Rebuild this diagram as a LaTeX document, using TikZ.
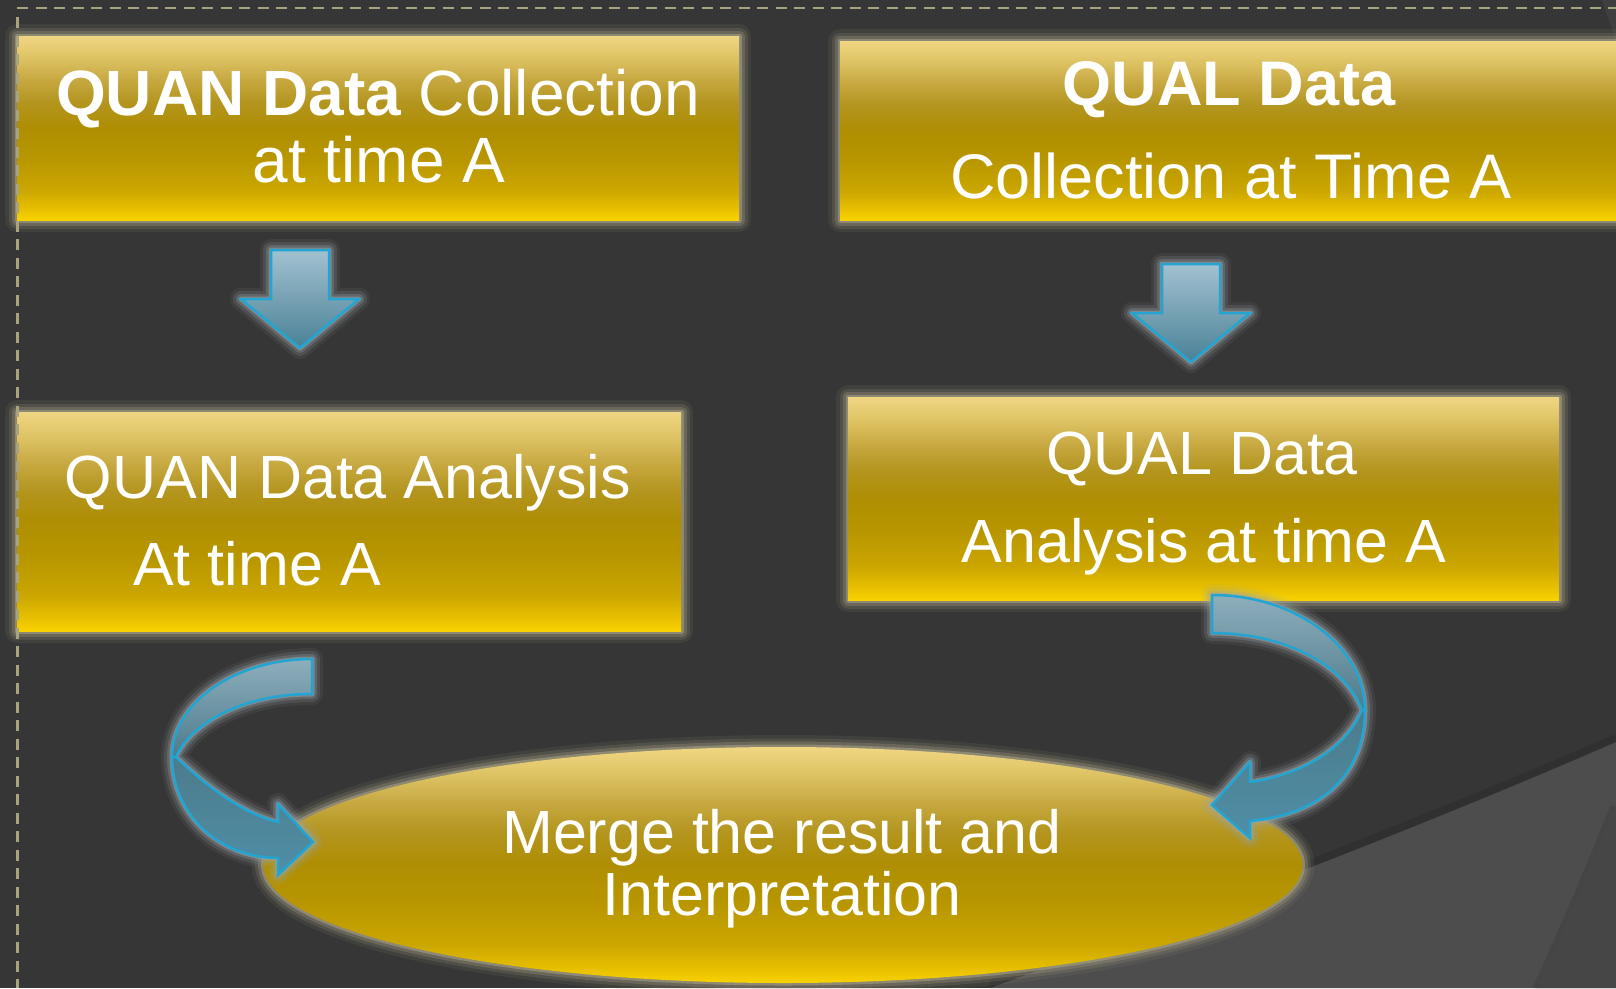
\documentclass[tikz,border=0pt]{standalone}
\usepackage{fontspec}
\setmainfont{Liberation Sans}
\usetikzlibrary{shapes.geometric}

% backdrop
\definecolor{bgdark}{HTML}{363636}
\definecolor{bglight}{HTML}{4D4D4D}
\definecolor{bgright}{HTML}{464646}
\definecolor{bgcorner}{HTML}{3F3F3F}
\definecolor{dashc}{HTML}{A8A47F}
% halos
\definecolor{glowgold}{HTML}{ABA588}
\definecolor{glowblue}{HTML}{9AA4A7}
% blue arrows
\definecolor{blueedge}{HTML}{22A5D3}
\definecolor{arrtop}{HTML}{A2C1D0}
\definecolor{arrbot}{HTML}{4A8196}
\definecolor{bandtop}{HTML}{8EAEBC}
\definecolor{bandmid}{HTML}{4D7B8B}
\definecolor{bandlow}{HTML}{4E8FA7}
% gold bars (bottom to top)
\definecolor{gB}{HTML}{F9D300}
\definecolor{g28}{HTML}{E8C000}
\definecolor{g33}{HTML}{CCA700}
\definecolor{g42}{HTML}{B89600}
\definecolor{g50}{HTML}{AF8E02}
\definecolor{g57}{HTML}{B3951F}
\definecolor{g63}{HTML}{C6A840}
\definecolor{g69}{HTML}{DDC263}
\definecolor{gT}{HTML}{F0D682}

\pgfdeclareverticalshading{goldfill}{100bp}{color(0bp)=(gB); color(25bp)=(gB);
  color(28bp)=(g28); color(33bp)=(g33); color(42bp)=(g42); color(50bp)=(g50);
  color(57bp)=(g57); color(63bp)=(g63); color(69bp)=(g69); color(75bp)=(gT);
  color(100bp)=(gT)}

\tikzset{
  goldglow/.style={
    preaction={draw=glowgold,draw opacity=0.09,line width=24,line join=round},
    preaction={draw=glowgold,draw opacity=0.16,line width=17,line join=round},
    preaction={draw=glowgold,draw opacity=0.28,line width=11,line join=round},
    preaction={draw=glowgold,draw opacity=0.55,line width=5,line join=round}},
  blueglow/.style={
    preaction={draw=glowblue,draw opacity=0.09,line width=22,line join=round},
    preaction={draw=glowblue,draw opacity=0.16,line width=16,line join=round},
    preaction={draw=glowblue,draw opacity=0.28,line width=10,line join=round},
    preaction={draw=glowblue,draw opacity=0.55,line width=5,line join=round}},
  goldbox/.style={goldglow, shade, shading=goldfill, inner sep=0, outer sep=0},
  bandedge/.style={draw=blueedge, line width=2.5, line join=miter},
  lbl/.style={text=white, inner sep=0, anchor=base},
  downarrow/.pic={
    \path[blueglow, shade, top color=arrtop, bottom color=arrbot, bandedge]
      (-29,0) -- (29,0) -- (29,49) -- (59,49) -- (0,98) -- (-59,49) -- (-29,49) -- cycle;
  },
}

\begin{document}
\begin{tikzpicture}[x=1pt,y=-1pt]
\useasboundingbox (0,0) rectangle (1616,988);
\clip (0,0) rectangle (1616,988);

% backdrop panels
\fill[bgdark] (0,0) rectangle (1616,988);
\fill[bglight] (990,988) .. controls (1170,922) and (1400,836) .. (1616,742) -- (1616,988) -- cycle;
\draw[black, draw opacity=0.10, line width=8] (990,984) .. controls (1170,918) and (1400,832) .. (1616,738);
\fill[bgright] (1616,806) .. controls (1590,870) and (1565,930) .. (1538,988) -- (1616,988) -- cycle;
\draw[black, draw opacity=0.10, line width=5] (1613,806) .. controls (1587,870) and (1562,930) .. (1535,988);
\fill[bgcorner] (1602,0) -- (1616,0) -- (1616,42) -- cycle;

% process boxes
\node[goldbox, minimum width=722, minimum height=184] (quanCol) at (378,128) {};
\node[goldbox, minimum width=800, minimum height=179] (qualCol) at (1240,130.5) {};
\node[goldbox, minimum width=664, minimum height=219] (quanAna) at (349,521.5) {};
\node[goldbox, minimum width=711, minimum height=203] (qualAna) at (1203.5,498.5) {};
\node[goldbox, ellipse, minimum width=1039, minimum height=236] (merge) at (783,865) {};

% box texts
\node[lbl, font=\fontsize{64}{76}\selectfont] (t1a) at (378,115) {\bfseries QUAN Data\mdseries{} Collection};
\node[lbl, font=\fontsize{64}{76}\selectfont] (t1b) at (379,182) {at time A};
\node[lbl, font=\fontsize{63}{75}\selectfont\bfseries] (t2a) at (1229,105) {QUAL Data};
\node[lbl, font=\fontsize{63}{75}\selectfont] (t2b) at (1231,198) {Collection at Time A};
\node[lbl, font=\fontsize{61}{73}\selectfont] (t3a) at (348,498) {QUAN Data Analysis};
\node[lbl, font=\fontsize{61}{73}\selectfont] (t3b) at (257,585) {At time A};
\node[lbl, font=\fontsize{61}{73}\selectfont] (t4a) at (1202,474) {QUAL Data};
\node[lbl, font=\fontsize{61}{73}\selectfont] (t4b) at (1204,562) {Analysis at time A};
\node[lbl, font=\fontsize{61}{73}\selectfont] (t5a) at (782,853) {Merge the result and};
\node[lbl, font=\fontsize{61}{73}\selectfont] (t5b) at (782,915) {Interpretation};

% straight block arrows
\pic (arrA) at (300,250) {downarrow};
\pic (arrB) at (1191,264) {downarrow};

% curved arrow on the left: analysis -> merge
\path[blueglow] (312,659) .. controls (235,659) and (172,703) .. (172,757)
  .. controls (172,815) and (220,858) .. (278,858) -- (278,875) -- (313,842)
  -- (278,804) -- (278,822) .. controls (235,812) and (192,772) .. (176,757)
  .. controls (190,725) and (240,694) .. (312,694) -- cycle;
\path[shade, top color=bandtop, bottom color=bandmid, bandedge]
  (312,659) .. controls (235,659) and (172,703) .. (172,757) -- (176,757)
  .. controls (190,725) and (240,694) .. (312,694) -- cycle;
\path[shade, top color=bandmid, bottom color=bandlow, bandedge]
  (172,757) .. controls (172,815) and (220,858) .. (278,858) -- (278,875)
  -- (313,842) -- (278,804) -- (278,822) .. controls (235,812) and (192,772) .. (176,757) -- cycle;

% curved arrow on the right: analysis -> merge
\path[blueglow] (1212,595) .. controls (1296,595) and (1365,647) .. (1365,710)
  .. controls (1365,775) and (1320,815) .. (1250,821) -- (1250,838) -- (1212,805)
  -- (1250,762) -- (1250,782) .. controls (1300,775) and (1345,750) .. (1362,710)
  .. controls (1345,665) and (1285,633) .. (1212,633) -- cycle;
\path[shade, top color=bandtop, bottom color=bandmid, bandedge]
  (1212,595) .. controls (1296,595) and (1365,647) .. (1365,710) -- (1362,710)
  .. controls (1345,665) and (1285,633) .. (1212,633) -- cycle;
\path[shade, top color=bandmid, bottom color=bandlow, bandedge]
  (1365,710) .. controls (1365,775) and (1320,815) .. (1250,821) -- (1250,838)
  -- (1212,805) -- (1250,762) -- (1250,782) .. controls (1300,775) and (1345,750) .. (1362,710) -- cycle;

% dashed frame
\draw[dashc, line width=2.7, dash pattern=on 11 off 7.5] (17,8) -- (1616,8);
\draw[dashc, line width=2.7, dash pattern=on 11 off 7.5] (17.5,17) -- (17.5,988);
\end{tikzpicture}
\end{document}
